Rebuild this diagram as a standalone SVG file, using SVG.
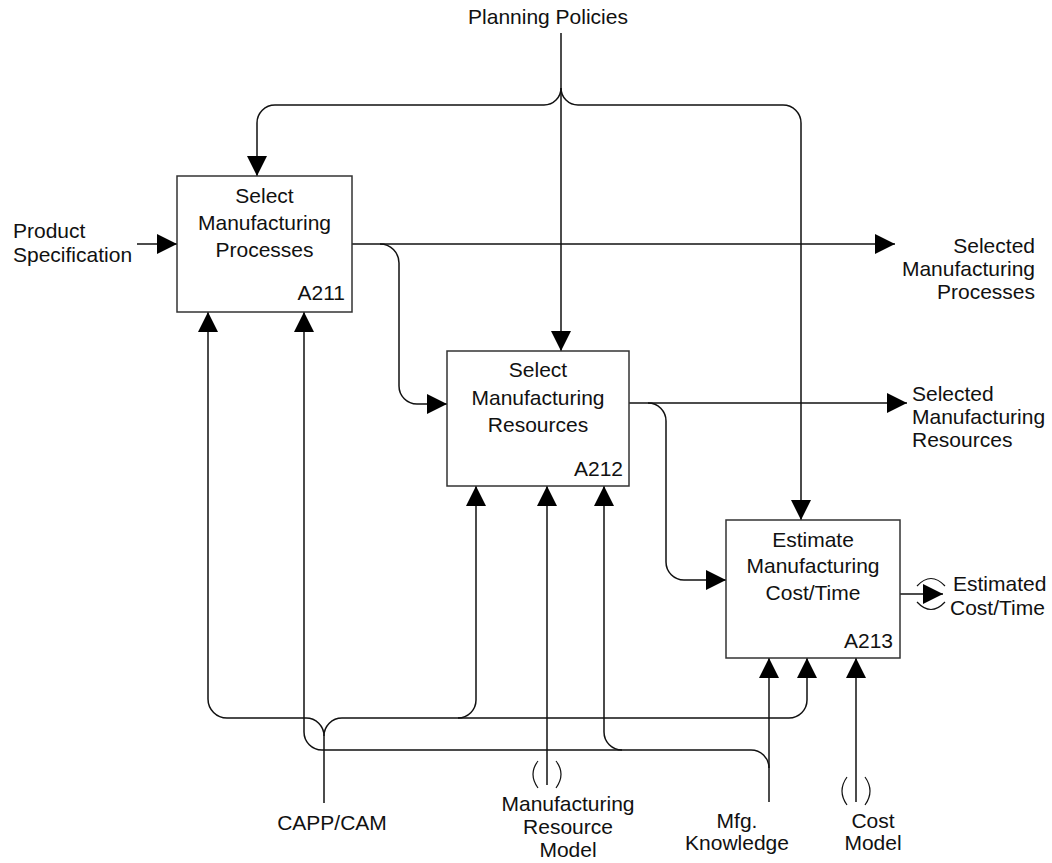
<svg xmlns="http://www.w3.org/2000/svg" width="1052" height="863" viewBox="0 0 1052 863">
  <style>
    text { font-family: "Liberation Sans", Arial, sans-serif; font-size: 21px; fill: #111; }
    .mid { text-anchor: middle; }
    .end { text-anchor: end; }
    .box { fill: #fff; stroke: #333; stroke-width: 1.5; }
    .wire { fill: none; stroke: #111; stroke-width: 1.5; }
    .arrow { marker-end: url(#head); }
    .tunnel { fill: none; stroke: #111; stroke-width: 1.2; }
  </style>
  <defs>
    <marker id="head" viewBox="0 0 20 20" refX="20" refY="10" markerWidth="20" markerHeight="20" markerUnits="userSpaceOnUse" orient="auto">
      <path d="M0,0 L20,10 L0,20 Z" fill="#000"/>
    </marker>
  </defs>
  <rect width="1052" height="863" fill="#fff"/>

  <g id="connectors">
    <!-- Planning Policies: control to all three activities -->
    <path class="wire arrow" d="M561,33 V351"/>
    <path class="wire arrow" d="M561,88 A17,17 0 0 1 544,105 H275 A18,18 0 0 0 257,123 V176"/>
    <path class="wire arrow" d="M561,88 A17,17 0 0 0 578,105 H783 A18,18 0 0 1 801,123 V520"/>

    <!-- Product Specification input -->
    <path class="wire arrow" d="M137,244 H177"/>

    <!-- A211 outputs -->
    <path class="wire arrow" d="M352,244 H895"/>
    <path class="wire arrow" d="M380,244 A19,19 0 0 1 399,263 V386 A18,18 0 0 0 417,404 H447"/>

    <!-- A212 outputs -->
    <path class="wire arrow" d="M629,403 H907"/>
    <path class="wire arrow" d="M648,403 A18,18 0 0 1 666,421 V562 A18,18 0 0 0 684,580 H726"/>

    <!-- A213 output -->
    <path class="wire arrow" d="M900,594 H943"/>
    <path class="tunnel" d="M917,586 Q931,571 945,586"/>
    <path class="tunnel" d="M917,602 Q931,617 945,602"/>

    <!-- CAPP/CAM mechanism -->
    <path class="wire" d="M324,803 V736"/>
    <path class="wire arrow" d="M324,736 A18,18 0 0 0 306,718 H227 A19,19 0 0 1 208,699 V312"/>
    <path class="wire arrow" d="M324,736 A18,18 0 0 1 342,718 H458 A18,18 0 0 0 476,700 V486"/>
    <path class="wire arrow" d="M458,718 H789 A18,18 0 0 0 807,700 V658"/>

    <!-- Mfg. Knowledge mechanism -->
    <path class="wire arrow" d="M769,802 V658"/>
    <path class="wire arrow" d="M769,768 A18,18 0 0 0 751,750 H322 A18,18 0 0 1 304,732 V312"/>
    <path class="wire arrow" d="M622,750 A18,18 0 0 1 604,732 V486"/>

    <!-- Manufacturing Resource Model mechanism -->
    <path class="wire arrow" d="M547,785 V486"/>
    <path class="tunnel" d="M538,761 Q528,774 538,788"/>
    <path class="tunnel" d="M556,761 Q566,774 556,788"/>

    <!-- Cost Model mechanism -->
    <path class="wire arrow" d="M856,802 V658"/>
    <path class="tunnel" d="M847,777 Q837,791 847,805"/>
    <path class="tunnel" d="M865,777 Q875,791 865,805"/>
  </g>

  <g id="a211">
    <rect class="box" x="177" y="176" width="175" height="136"/>
    <text class="mid" x="264.5" y="203">Select</text>
    <text class="mid" x="264.5" y="230">Manufacturing</text>
    <text class="mid" x="264.5" y="257">Processes</text>
    <text class="end" x="345" y="300">A211</text>
  </g>

  <g id="a212">
    <rect class="box" x="447" y="351" width="182" height="135"/>
    <text class="mid" x="538" y="377">Select</text>
    <text class="mid" x="538" y="405">Manufacturing</text>
    <text class="mid" x="538" y="432">Resources</text>
    <text class="end" x="623" y="476">A212</text>
  </g>

  <g id="a213">
    <rect class="box" x="726" y="520" width="174" height="138"/>
    <text class="mid" x="813" y="547">Estimate</text>
    <text class="mid" x="813" y="573">Manufacturing</text>
    <text class="mid" x="813" y="600">Cost/Time</text>
    <text class="end" x="893" y="648">A213</text>
  </g>

  <g id="labels">
    <text class="mid" x="548" y="24">Planning Policies</text>
    <text x="13" y="238">Product</text>
    <text x="13" y="262">Specification</text>
    <text class="end" x="1035" y="253">Selected</text>
    <text class="end" x="1035" y="276">Manufacturing</text>
    <text class="end" x="1035" y="299">Processes</text>
    <text x="912" y="401">Selected</text>
    <text x="912" y="424">Manufacturing</text>
    <text x="912" y="447">Resources</text>
    <text x="953" y="591">Estimated</text>
    <text x="950" y="615">Cost/Time</text>
    <text class="mid" x="332" y="830">CAPP/CAM</text>
    <text class="mid" x="568" y="811">Manufacturing</text>
    <text class="mid" x="568" y="834">Resource</text>
    <text class="mid" x="568" y="857">Model</text>
    <text class="mid" x="737" y="828">Mfg.</text>
    <text class="mid" x="737" y="850">Knowledge</text>
    <text class="mid" x="873" y="828">Cost</text>
    <text class="mid" x="873" y="850">Model</text>
  </g>
</svg>
